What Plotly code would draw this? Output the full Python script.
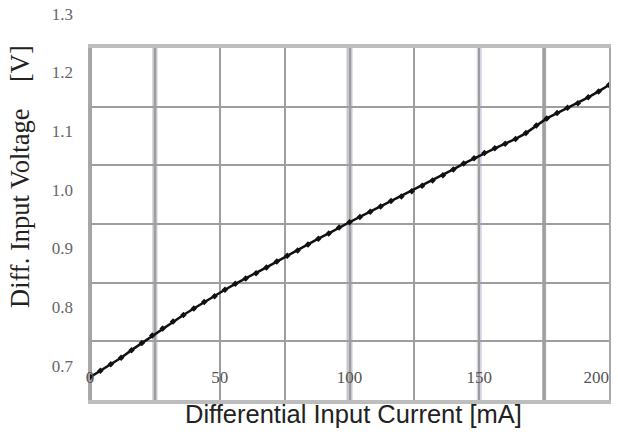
import plotly.graph_objects as go

# ---- data ----
current_mA = [0, 4, 8, 12, 16, 20, 24, 28, 32, 36, 40, 44, 48, 52, 56, 60, 64, 68, 72, 76,
              80, 84, 88, 92, 96, 100, 104, 108, 112, 116, 120, 124, 128, 132, 136, 140,
              144, 148, 152, 156, 160, 164, 168, 172, 176, 180, 184, 188, 192, 196, 200]
voltage_V = [0.689, 0.700, 0.711, 0.722, 0.735, 0.747, 0.760, 0.772, 0.784, 0.795,
             0.806, 0.817, 0.827, 0.838, 0.848, 0.857, 0.866, 0.876, 0.886, 0.896,
             0.905, 0.915, 0.925, 0.934, 0.944, 0.953, 0.962, 0.971, 0.980, 0.989,
             0.997, 1.006, 1.015, 1.024, 1.033, 1.043, 1.053, 1.062, 1.071, 1.079,
             1.087, 1.095, 1.105, 1.118, 1.130, 1.139, 1.148, 1.156, 1.166, 1.176, 1.187]

x_grid_vals = [0, 25, 50, 75, 100, 125, 150, 175, 200]
x_tick_text = ["0", "", "50", "", "100", "", "150", "", ""]
x_end_vals = [200]
x_end_text = ["200"]
y_grid_vals = [0.65, 0.75, 0.85, 0.95, 1.05, 1.15, 1.25]
y_label_vals = [0.7, 0.8, 0.9, 1.0, 1.1, 1.2, 1.3]
y_label_text = ["0.7", "0.8", "0.9", "1.0", "1.1", "1.2", "1.3"]

x_title = "Differential Input Current [mA]"
y_title = "Diff. Input Voltage\u00a0\u00a0\u00a0\u00a0[V]"

# styling of the heavier (scanned) grid lines
thick_lines = [(0, "#a4a4a4", 4), (25, "#c2c2ca", 5), (100, "#c6c6cc", 6),
               (150, "#d4d4e2", 5), (175, "#aaaaaa", 4)]

W, H = 618, 435
ML, MR, MT, MB = 90, 9, 8, 35
plot_w = W - ML - MR
plot_h = H - MT - MB          # 392 px
main_h = 352                  # framed area height
y_rng = [0.65, 1.25]
y2_top = y_rng[0] + (y_rng[1] - y_rng[0]) * plot_h / main_h
tick_font = dict(family="Liberation Serif", size=17, color="#555555")

fig = go.Figure()
fig.add_trace(go.Scatter(
    x=current_mA, y=voltage_V, mode="lines+markers",
    line=dict(color="#111111", width=2.5),
    marker=dict(symbol="diamond", size=5, color="#111111"),
    showlegend=False, hoverinfo="x+y"))
# empty trace to carry the label axes
fig.add_trace(go.Scatter(x=[], y=[], xaxis="x2", yaxis="y2", showlegend=False, hoverinfo="skip"))

for xv, col, wd in thick_lines:
    fig.add_shape(type="line", xref="x", yref="y", x0=xv, x1=xv, y0=y_rng[0], y1=y_rng[1],
                  line=dict(color=col, width=wd), layer="below")

fig.update_layout(
    width=W, height=H,
    margin=dict(l=ML, r=MR, t=MT, b=MB),
    paper_bgcolor="white", plot_bgcolor="rgba(0,0,0,0)",
    xaxis=dict(domain=[0, 1], range=[0, 200], anchor="y",
               tickmode="array", tickvals=x_grid_vals, ticktext=x_tick_text,
               ticks="", ticklabelposition="outside", ticklabelstandoff=-41,
               ticklabeloverflow="allow", tickfont=tick_font,
               showgrid=True, gridcolor="#9e9e9e", gridwidth=1.5,
               showline=True, linecolor="#bdbdbd", linewidth=4, mirror=True,
               zeroline=False, automargin=False),
    yaxis=dict(domain=[0, main_h / plot_h], range=y_rng, anchor="x",
               tickmode="array", tickvals=y_grid_vals, showticklabels=False, ticks="",
               showgrid=True, gridcolor="#9e9e9e", gridwidth=1.5,
               showline=True, linecolor="#a8a8a8", linewidth=2, mirror=True,
               zeroline=False, automargin=False),
    xaxis2=dict(domain=[0, 1], range=[0, 200], anchor="y2",
                tickmode="array", tickvals=x_end_vals, ticktext=x_end_text,
                ticks="", ticklabelposition="outside left", ticklabelstandoff=-35,
                ticklabeloverflow="allow", tickfont=tick_font,
                showgrid=False, showline=False, zeroline=False, automargin=False),
    yaxis2=dict(domain=[0, 1], range=[y_rng[0], y2_top], anchor="x2",
                tickmode="array", tickvals=y_label_vals, ticktext=y_label_text,
                ticks="", ticklabelshift=-5, ticklabelstandoff=16,
                tickfont=dict(family="Liberation Serif", size=17, color="#666666"),
                showgrid=False, zeroline=False, showline=False, automargin=False),
    annotations=[
        dict(text=y_title, textangle=-90, xref="paper", yref="paper",
             x=(20 - ML) / plot_w, y=(H - MB - 177) / plot_h,
             xanchor="center", yanchor="middle", showarrow=False,
             font=dict(family="Liberation Serif", size=26.5, color="#222222")),
        dict(text=x_title, xref="paper", yref="paper",
             x=(353 - ML) / plot_w, y=-(414 - (H - MB)) / plot_h,
             xanchor="center", yanchor="middle", showarrow=False,
             font=dict(family="Liberation Sans", size=25.5, color="#222222")),
    ],
)

fig.write_html("out.html", config={"displayModeBar": False},
               post_script="document.body.style.margin='0';")
